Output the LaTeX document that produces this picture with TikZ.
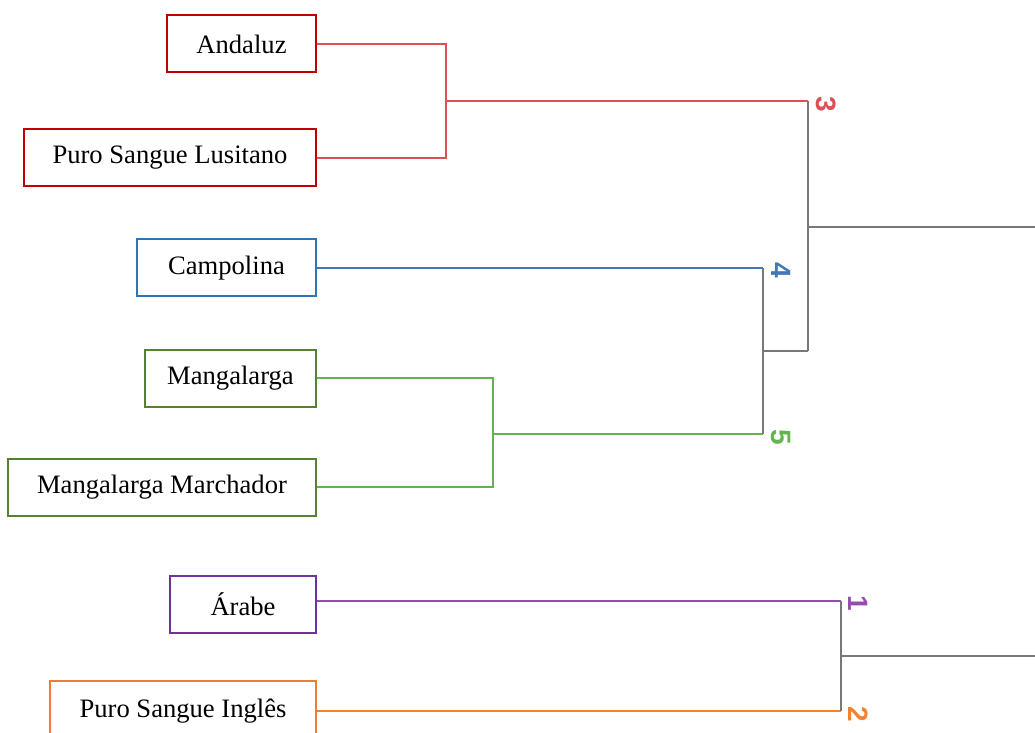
\documentclass[tikz,border=0pt]{standalone}
\usepackage{fontspec}
\setmainfont{Liberation Serif}
\setsansfont{Liberation Sans}
\usepackage{xcolor}
\usepackage{tikz}
\usetikzlibrary{positioning, calc}

\definecolor{boxred}{RGB}{192,0,0}
\definecolor{boxblue}{RGB}{46,117,182}
\definecolor{boxgreen}{RGB}{84,130,53}
\definecolor{boxpurple}{RGB}{112,48,160}
\definecolor{boxorange}{RGB}{237,125,49}
\definecolor{lnred}{RGB}{222,80,88}
\definecolor{lnblue}{RGB}{66,120,182}
\definecolor{lngreen}{RGB}{100,178,80}
\definecolor{lnpurple}{RGB}{148,78,170}
\definecolor{lnorange}{RGB}{240,132,48}
\definecolor{lngray}{RGB}{120,120,120}

\begin{document}
\begin{tikzpicture}[
    x=0.5pt, y=-0.5pt,
    breed/.style={draw, line width=1pt, fill=white, anchor=east, minimum height=28.5pt, align=center, font=\fontsize{13.3}{16}\selectfont},
    link/.style={line width=1pt},
    num/.style={font=\sffamily\bfseries\fontsize{14}{16}\selectfont, rotate=-90, inner sep=0pt}
]
\useasboundingbox (0,0) rectangle (1035,733);
% Breeds on the left
\node[breed, draw=boxred, minimum width=74.5pt] (andaluz) at (317,44) {Andaluz};
\node[breed, draw=boxred, minimum width=146pt] (lusitano) at (317,158) {Puro Sangue Lusitano};
\node[breed, draw=boxblue, minimum width=89.5pt] (campolina) at (317,268) {Campolina};
\node[breed, draw=boxgreen, minimum width=85.5pt] (mangalarga) at (317,378) {Mangalarga};
\node[breed, draw=boxgreen, minimum width=154pt] (marchador) at (317,487) {Mangalarga Marchador};
\node[breed, draw=boxpurple, minimum width=73pt] (arabe) at (317,604) {Árabe};
\node[breed, draw=boxorange, minimum width=133pt, minimum height=30pt] (ingles) at (317,711) {Puro Sangue Inglês};
% Junction points of the tree
\coordinate (j12) at (446,101);
\coordinate (c3) at (808,101);
\coordinate (c4) at (763,268);
\coordinate (j45) at (493,434);
\coordinate (c5) at (763,434);
\coordinate (m45) at (763,351);
\coordinate (m345) at (808,351);
\coordinate (top) at (808,227);
\coordinate (topend) at (1035,227);
\coordinate (c1) at (841,601);
\coordinate (c2) at (841,711);
\coordinate (bot) at (841,656);
\coordinate (botend) at (1035,656);
% Cluster 3
\draw[link, lnred] (andaluz.east) -| (j12) |- (lusitano.east);
\draw[link, lnred] (j12) -- (c3);
% Cluster 4
\draw[link, lnblue] (campolina.east) -- (c4);
% Cluster 5
\draw[link, lngreen] (mangalarga.east) -| (j45) |- (marchador.east);
\draw[link, lngreen] (j45) -- (c5);
% Upper joins
\draw[link, lngray] (c4) -- (c5);
\draw[link, lngray] (m45) -- (m345);
\draw[link, lngray] (c3) -- (m345);
\draw[link, lngray] (top) -- (topend);
% Clusters 1 and 2
\draw[link, lnpurple] (arabe.east |- c1) -- (c1);
\draw[link, lnorange] (ingles.east) -- (c2);
\draw[link, lngray] (c1) -- (c2);
\draw[link, lngray] (bot) -- (botend);
% Cluster numbers
\node[num, text=lnred] (n3) at ($(c3)+(18,3)$) {3};
\node[num, text=lnblue] (n4) at ($(c4)+(18,2)$) {4};
\node[num, text=lngreen] (n5) at ($(c5)+(18,3)$) {5};
\node[num, text=lnpurple] (n1) at ($(c1)+(17,2)$) {1};
\node[num, text=lnorange] (n2) at ($(c2)+(17,3)$) {2};
\end{tikzpicture}
\end{document}
